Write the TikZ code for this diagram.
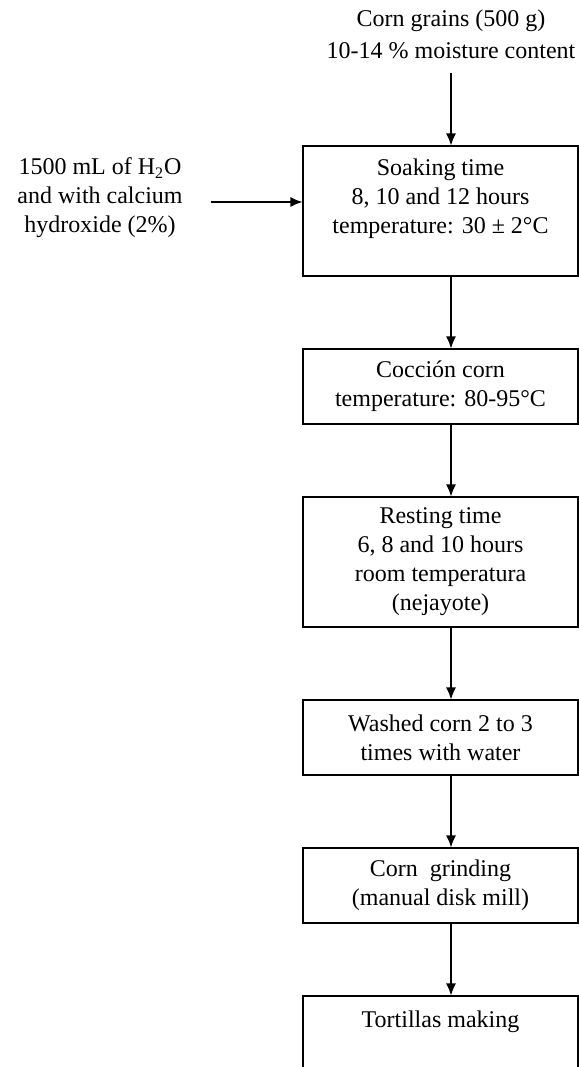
\documentclass[tikz,border=0pt]{standalone}
\usepackage{fontspec}
\setmainfont{Liberation Serif}
\usetikzlibrary{arrows.meta,positioning,calc}

\begin{document}
\begin{tikzpicture}[x=0.5pt,y=-0.5pt,
  box/.style={draw,line width=0.6pt,minimum width=137.5pt,align=center,inner sep=2pt,
    font=\fontsize{12}{14.5}\selectfont},
  txt/.style={align=center,inner sep=1pt,font=\fontsize{12}{14.5}\selectfont},
  arr/.style={-{Latex[length=6pt,width=5pt]},line width=0.6pt}]
  \useasboundingbox (0,0) rectangle (579,1067);
  \clip (0,0) rectangle (579,1067);
  % Inputs
  \node[txt,font=\fontsize{12}{16}\selectfont] (grains) at (451,34) {Corn grains (500 g)\\10-14 \% moisture content};
  \node[txt] (water) at (100,198) {1500 mL of H\textsubscript{2}O\\and with calcium\\hydroxide (2\%)};
  \coordinate (win) at ([xshift=13pt,yshift=-2pt]water.east);
  % Process steps
  \node[box,minimum height=65pt] (soak) at (440.5,211) {Soaking time\\8, 10 and 12 hours\\temperature: 30 ± 2°C\\\mbox{}};
  \node[box,minimum height=37.5pt] (cook) at (440.5,386.5) {Cocción corn\\temperature: 80-95°C};
  \node[box,minimum height=65pt] (rest) at (440.5,562) {Resting time\\6, 8 and 10 hours\\room temperatura\\(nejayote)};
  \node[box,minimum height=37.5pt] (wash) at (440.5,737.5) {Washed corn 2 to 3\\times with water};
  \node[box,minimum height=37.5pt] (grind) at (440.5,885.5) {Corn~ grinding\\(manual disk mill)};
  \node[box,minimum height=37.5pt] (tort) at (440.5,1033.5) {Tortillas making\\\mbox{}};
  % Connectors
  \draw[arr] ([yshift=-6pt]grains.south) -- (soak.north -| grains);
  \draw[arr] (win) -- (soak.west |- win);
  \draw[arr] (soak.south -| grains) -- (cook.north -| grains);
  \draw[arr] (cook.south -| grains) -- (rest.north -| grains);
  \draw[arr] (rest.south -| grains) -- (wash.north -| grains);
  \draw[arr] (wash.south -| grains) -- (grind.north -| grains);
  \draw[arr] (grind.south -| grains) -- (tort.north -| grains);
\end{tikzpicture}
\end{document}
